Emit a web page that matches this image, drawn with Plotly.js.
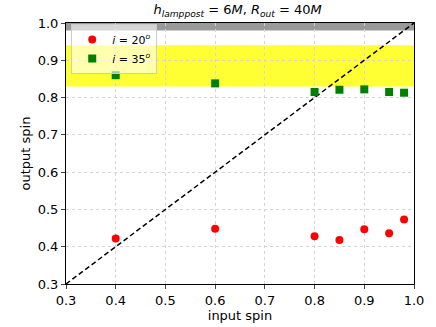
<!DOCTYPE html>
<html>
<head>
<meta charset="utf-8">
<script src="https://cdn.plot.ly/plotly-3.0.1.min.js"></script>
<style>body{margin:0;padding:0;background:#fff;} #chart{width:436px;height:327px;}</style>
</head>
<body>
<div id="chart"></div>
<script>
// input spins and output spins
var inSpin = [0.4, 0.6, 0.8, 0.85, 0.9, 0.95, 0.98];
var outSpin20 = [0.422, 0.448, 0.428, 0.418, 0.447, 0.436, 0.473];
var outSpin35 = [0.860, 0.838, 0.815, 0.821, 0.822, 0.815, 0.813];
var diagLine = [0.3, 1.0];
var grayBand = [0.98, 1.0];
var yellowBand = [0.83, 0.94];

var font = 'DejaVu Sans, sans-serif';

var traces = [
  {
    x: diagLine, y: diagLine, mode: 'lines', showlegend: false,
    line: {color: 'black', dash: '5px,3px', width: 1.5}
  },
  {
    x: inSpin, y: outSpin20, mode: 'markers', type: 'scatter',
    name: '<i>i</i> = 20<sup><i>o</i></sup>',
    marker: {color: 'red', symbol: 'circle', size: 8}
  },
  {
    x: inSpin, y: outSpin35, mode: 'markers', type: 'scatter',
    name: '<i>i</i> = 35<sup><i>o</i></sup>',
    marker: {color: 'green', symbol: 'square', size: 8}
  }
];

var layout = {
  width: 436, height: 327,
  margin: {l: 66, r: 22, t: 23, b: 43},
  paper_bgcolor: 'white', plot_bgcolor: 'white',
  font: {family: font, size: 13, color: 'black'},
  title: {
    text: '<i>h</i><sub><i>lamppost</i></sub> = 6<i>M</i>, <i>R</i><sub><i>out</i></sub> = 40<i>M</i>',
    x: 0.545, xanchor: 'center', y: 0.985, yanchor: 'top',
    font: {size: 13}
  },
  xaxis: {
    range: [0.3, 1.0], dtick: 0.1, tickformat: '.1f',
    showline: true, linecolor: 'black', linewidth: 1, mirror: true,
    ticks: 'outside', ticklen: 4,
    showgrid: true, gridcolor: '#d4d4d4', griddash: 'dot', zeroline: false,
    tickfont: {size: 13},
    title: {text: 'input spin', font: {size: 13}, standoff: 2}
  },
  yaxis: {
    range: [0.3, 1.0], dtick: 0.1, tickformat: '.1f',
    showline: true, linecolor: 'black', linewidth: 1, mirror: true,
    ticks: 'outside', ticklen: 4,
    showgrid: true, gridcolor: '#d4d4d4', griddash: 'dot', zeroline: false,
    tickfont: {size: 13},
    title: {text: 'output spin', font: {size: 13}, standoff: 4}
  },
  shapes: [
    {type: 'rect', xref: 'paper', yref: 'y', x0: 0, x1: 1, y0: grayBand[0], y1: grayBand[1],
     fillcolor: 'rgba(128,128,128,0.8)', line: {width: 0}, layer: 'below'},
    {type: 'rect', xref: 'paper', yref: 'y', x0: 0, x1: 1, y0: yellowBand[0], y1: yellowBand[1],
     fillcolor: 'rgba(255,255,0,0.8)', line: {width: 0}, layer: 'below'}
  ],
  legend: {
    x: 0.015, y: 0.996, xanchor: 'left', yanchor: 'top',
    bgcolor: 'rgba(255,255,255,0.6)', bordercolor: '#cccccc', borderwidth: 1,
    font: {size: 11}, itemwidth: 30, tracegroupgap: 0
  },
  showlegend: true
};

Plotly.newPlot('chart', traces, layout, {displayModeBar: false, staticPlot: true});
</script>
</body>
</html>
